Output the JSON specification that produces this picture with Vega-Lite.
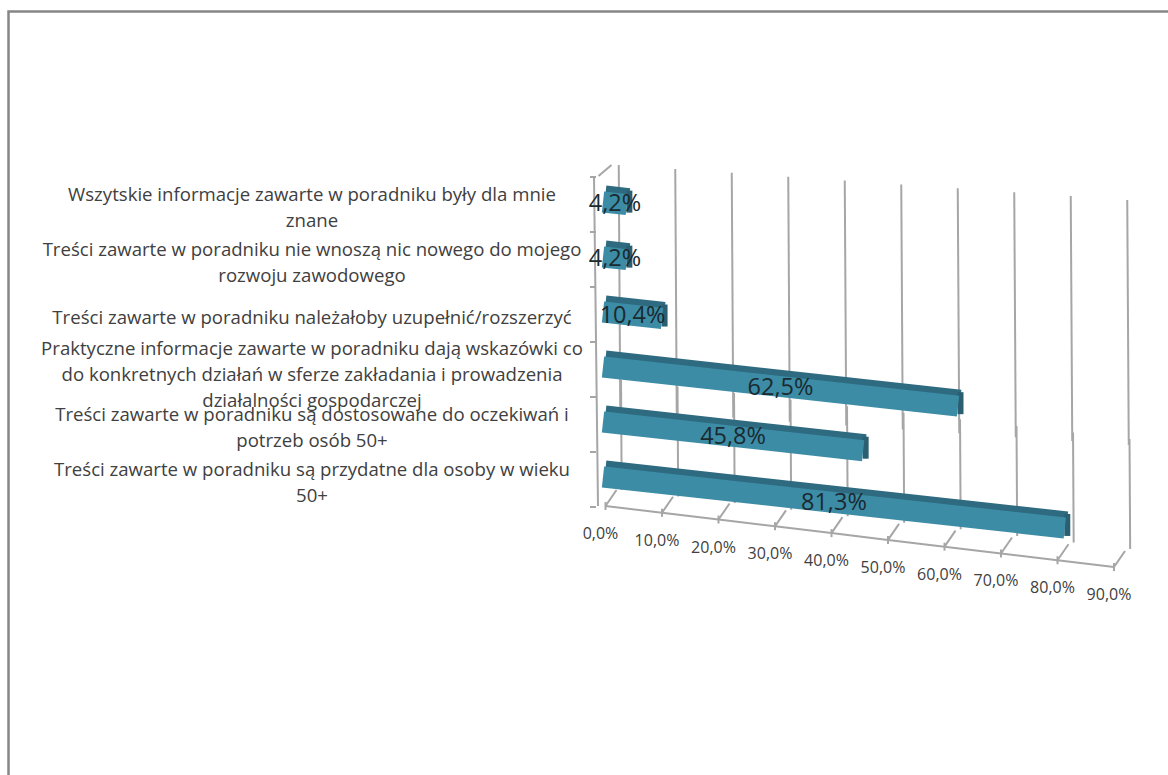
{
"$schema":"https://vega.github.io/schema/vega-lite/v6.json",
"width":1168,"height":775,
"autosize":{"type":"none"},
"padding":{"left":8.5,"top":11.5,"right":0,"bottom":0},
"background":"white",
"view":{"stroke":"#868686","strokeWidth":2.5,"fill":"white"},
"datasets":{
"answers":[
{"label":"Wszytskie informacje zawarte w poradniku były dla mnie\nznane","share":4.2,"shown":"4,2%","rank":1,"start":0},
{"label":"Treści zawarte w poradniku nie wnoszą nic nowego do mojego\nrozwoju zawodowego","share":4.2,"shown":"4,2%","rank":2,"start":0},
{"label":"Treści zawarte w poradniku należałoby uzupełnić/rozszerzyć","share":10.4,"shown":"10,4%","rank":3,"start":0},
{"label":"Praktyczne informacje zawarte w poradniku dają wskazówki co\ndo konkretnych działań w sferze zakładania i prowadzenia\ndziałalności gospodarczej","share":62.5,"shown":"62,5%","rank":4,"start":0},
{"label":"Treści zawarte w poradniku są dostosowane  do oczekiwań i\npotrzeb osób 50+","share":45.8,"shown":"45,8%","rank":5,"start":0},
{"label":"Treści zawarte w poradniku są przydatne dla osoby w wieku\n50+","share":81.3,"shown":"81,3%","rank":6,"start":0}
],
"ticks":[
{"tick":0,"text":"0,0%","far":0,"near":0},
{"tick":10,"text":"10,0%","far":0,"near":0},
{"tick":20,"text":"20,0%","far":0,"near":0},
{"tick":30,"text":"30,0%","far":0,"near":0},
{"tick":40,"text":"40,0%","far":0,"near":0},
{"tick":50,"text":"50,0%","far":0,"near":0},
{"tick":60,"text":"60,0%","far":0,"near":0},
{"tick":70,"text":"70,0%","far":0,"near":0},
{"tick":80,"text":"80,0%","far":0,"near":0},
{"tick":90,"text":"90,0%","far":0,"near":0}
]
},
"resolve":{"scale":{"x":"independent","y":"independent","yOffset":"independent","xOffset":"independent"},"axis":{"y":"independent","x":"independent"}},
"layer":[
{
"data":{"name":"ticks"},
"transform":[{"fold":["far","near"],"as":["end","unused"]}],
"mark":{"type":"line","color":"#a6a6a6","strokeWidth":2},
"encoding":{
"x":{"field":"tick","type":"ordinal","scale":{"type":"point","domain":[0,10,20,30,40,50,60,70,80,90],"range":[591.5,1100],"padding":0},"axis":null},
"xOffset":{"field":"end","type":"nominal","scale":{"type":"point","domain":["far","near"],"range":[18,21]}},
"y":{"field":"end","type":"nominal","scale":{"type":"point","domain":["far","near"],"range":[153.5,398.5],"padding":0},"axis":null},
"yOffset":{"field":"tick","type":"quantitative","scale":{"domain":[0,90],"range":[0,35]}},
"detail":{"field":"tick"}
}
},
{
"data":{"name":"ticks"},
"transform":[{"fold":["far","near"],"as":["end","unused"]}],
"mark":{"type":"line","color":"#a6a6a6","strokeWidth":2},
"encoding":{
"x":{"field":"tick","type":"ordinal","scale":{"type":"point","domain":[0,10,20,30,40,50,60,70,80,90],"range":[591.5,1100],"padding":0},"axis":null},
"xOffset":{"field":"end","type":"nominal","scale":{"type":"point","domain":["far","near"],"range":[20.7,22]}},
"y":{"field":"end","type":"nominal","scale":{"type":"point","domain":["far","near"],"range":[368.5,478.5],"padding":0},"axis":null},
"yOffset":{"field":"tick","type":"quantitative","scale":{"domain":[0,90],"range":[0,59]}},
"detail":{"field":"tick"}
}
},
{
"data":{"name":"ticks"},
"transform":[{"fold":["far","near"],"as":["end","unused"]}],
"encoding":{
"x":{"field":"tick","type":"ordinal","scale":{"type":"point","domain":[0,10,20,30,40,50,60,70,80,90],"range":[591.5,1100],"padding":0},"axis":null},
"xOffset":{"field":"end","type":"nominal","scale":{"type":"point","domain":["far","near"],"range":[22,0]}},
"y":{"field":"end","type":"nominal","scale":{"type":"point","domain":["far","near"],"range":[478.5,494.5],"padding":0},"axis":null},
"yOffset":{"field":"tick","type":"quantitative","scale":{"domain":[0,90],"range":[0,61]}}
},
"layer":[
{"mark":{"type":"line","color":"#a6a6a6","strokeWidth":2},
"encoding":{"detail":{"field":"tick"}}},
{"transform":[{"filter":"datum.end == 'near'"}],
"mark":{"type":"line","color":"#a6a6a6","strokeWidth":2},"encoding":{}},
{"transform":[{"filter":"datum.end == 'near'"}],
"mark":{"type":"tick","orient":"vertical","color":"#a6a6a6","size":8,"thickness":2,"opacity":1},"encoding":{}},
{"transform":[{"filter":"datum.end == 'near'"}],
"mark":{"type":"text","fontSize":16,"font":"Open Sans","color":"#404040","dy":28,"dx":-5},
"encoding":{"text":{"field":"text"}}}
]
},
{
"data":{"name":"ticks"},
"transform":[{"filter":"datum.tick == 0"},{"fold":["far","near"],"as":["end","unused"]}],
"mark":{"type":"line","color":"#a6a6a6","strokeWidth":2},
"encoding":{
"x":{"field":"tick","type":"ordinal","scale":{"type":"point","domain":[0,10,20,30,40,50,60,70,80,90],"range":[591.5,1100],"padding":0},"axis":null},
"xOffset":{"field":"end","type":"nominal","scale":{"type":"point","domain":["far","near"],"range":[-8,0]}},
"y":{"field":"end","type":"nominal","scale":{"type":"point","domain":["far","near"],"range":[164.5,494.5],"padding":0},"axis":null}
}
},
{
"data":{"name":"ticks"},
"transform":[{"filter":"datum.tick == 0"},{"fold":["far","near"],"as":["end","unused"]}],
"mark":{"type":"line","color":"#a6a6a6","strokeWidth":2},
"encoding":{
"x":{"field":"tick","type":"ordinal","scale":{"type":"point","domain":[0,10,20,30,40,50,60,70,80,90],"range":[591.5,1100],"padding":0},"axis":null},
"xOffset":{"field":"end","type":"nominal","scale":{"type":"point","domain":["far","near"],"range":[18,-8]}},
"y":{"field":"end","type":"nominal","scale":{"type":"point","domain":["far","near"],"range":[153.5,164.5],"padding":0},"axis":null}
}
},
{
"data":{"name":"answers"},
"transform":[{"fold":["start","share"],"as":["end","pct"]}],
"mark":{"type":"line","color":"#2f6b80","strokeWidth":7,"strokeCap":"butt"},
"encoding":{
"x":{"field":"pct","type":"quantitative","scale":{"domain":[0,90],"range":[597.5,1108.7]},"axis":null},
"y":{"field":"label","type":"nominal","sort":null,"scale":{"paddingInner":0,"paddingOuter":0,"range":[164.5,494.5]},"axis":null},
"yOffset":{"field":"pct","type":"quantitative","scale":{"domain":[0,90],"range":[13,69.4]}},
"detail":{"field":"label"}
}
},
{
"data":{"name":"answers"},
"mark":{"type":"tick","orient":"vertical","color":"#2a5f72","size":22,"thickness":6,"opacity":1},
"encoding":{
"x":{"field":"share","type":"quantitative","scale":{"domain":[0,90],"range":[597,1108.2]},"axis":null},
"y":{"field":"label","type":"nominal","sort":null,"scale":{"paddingInner":0,"paddingOuter":0,"range":[164.5,494.5]},"axis":null},
"yOffset":{"field":"share","type":"quantitative","scale":{"domain":[0,90],"range":[23,79.4]}}
}
},
{
"data":{"name":"answers"},
"transform":[{"fold":["start","share"],"as":["end","pct"]}],
"mark":{"type":"line","color":"#3c8ca6","strokeWidth":21,"strokeCap":"butt"},
"encoding":{
"x":{"field":"pct","type":"quantitative","scale":{"domain":[0,90],"range":[594.5,1105.7]},"axis":null},
"y":{"field":"label","type":"nominal","sort":null,"scale":{"paddingInner":0,"paddingOuter":0,"range":[164.5,494.5]},
"axis":{"title":null,"domain":false,"offset":-587,"tickBand":"extent","tickSize":6,"tickWidth":2,"tickColor":"#a6a6a6","labelAlign":"center","labelPadding":278,"labelLimit":0,"labelOverlap":false,"labelBound":false,"labelFlush":false,"labelFont":"Open Sans","labelFontSize":18.6,"labelColor":"#404040","labelLineHeight":26,
"labelOffset":{"condition":[{"test":"length(split(datum.value, '\\n')) == 1","value":4},{"test":"length(split(datum.value, '\\n')) == 3","value":-20}],"value":-9},
"labelExpr":"split(datum.label, '\\n')"}},
"yOffset":{"field":"pct","type":"quantitative","scale":{"domain":[0,90],"range":[26,82.4]}},
"detail":{"field":"label"}
}
},
{
"data":{"name":"answers"},
"transform":[{"fold":["start","share"],"as":["end","pct"]},{"aggregate":[{"op":"mean","field":"pct","as":"mid"}],"groupby":["label","shown","rank"]}],
"mark":{"type":"text","fontSize":23.5,"font":"Open Sans","color":"#1a2a30","dy":1},
"encoding":{
"x":{"field":"mid","type":"quantitative","scale":{"domain":[0,90],"range":[594.5,1105.7]},"axis":null},
"y":{"field":"label","type":"nominal","sort":{"field":"rank"},"scale":{"paddingInner":0,"paddingOuter":0,"range":[164.5,494.5]},"axis":null},
"yOffset":{"field":"mid","type":"quantitative","scale":{"domain":[0,90],"range":[26,82.4]}},
"text":{"field":"shown"}
}
}
]
}
